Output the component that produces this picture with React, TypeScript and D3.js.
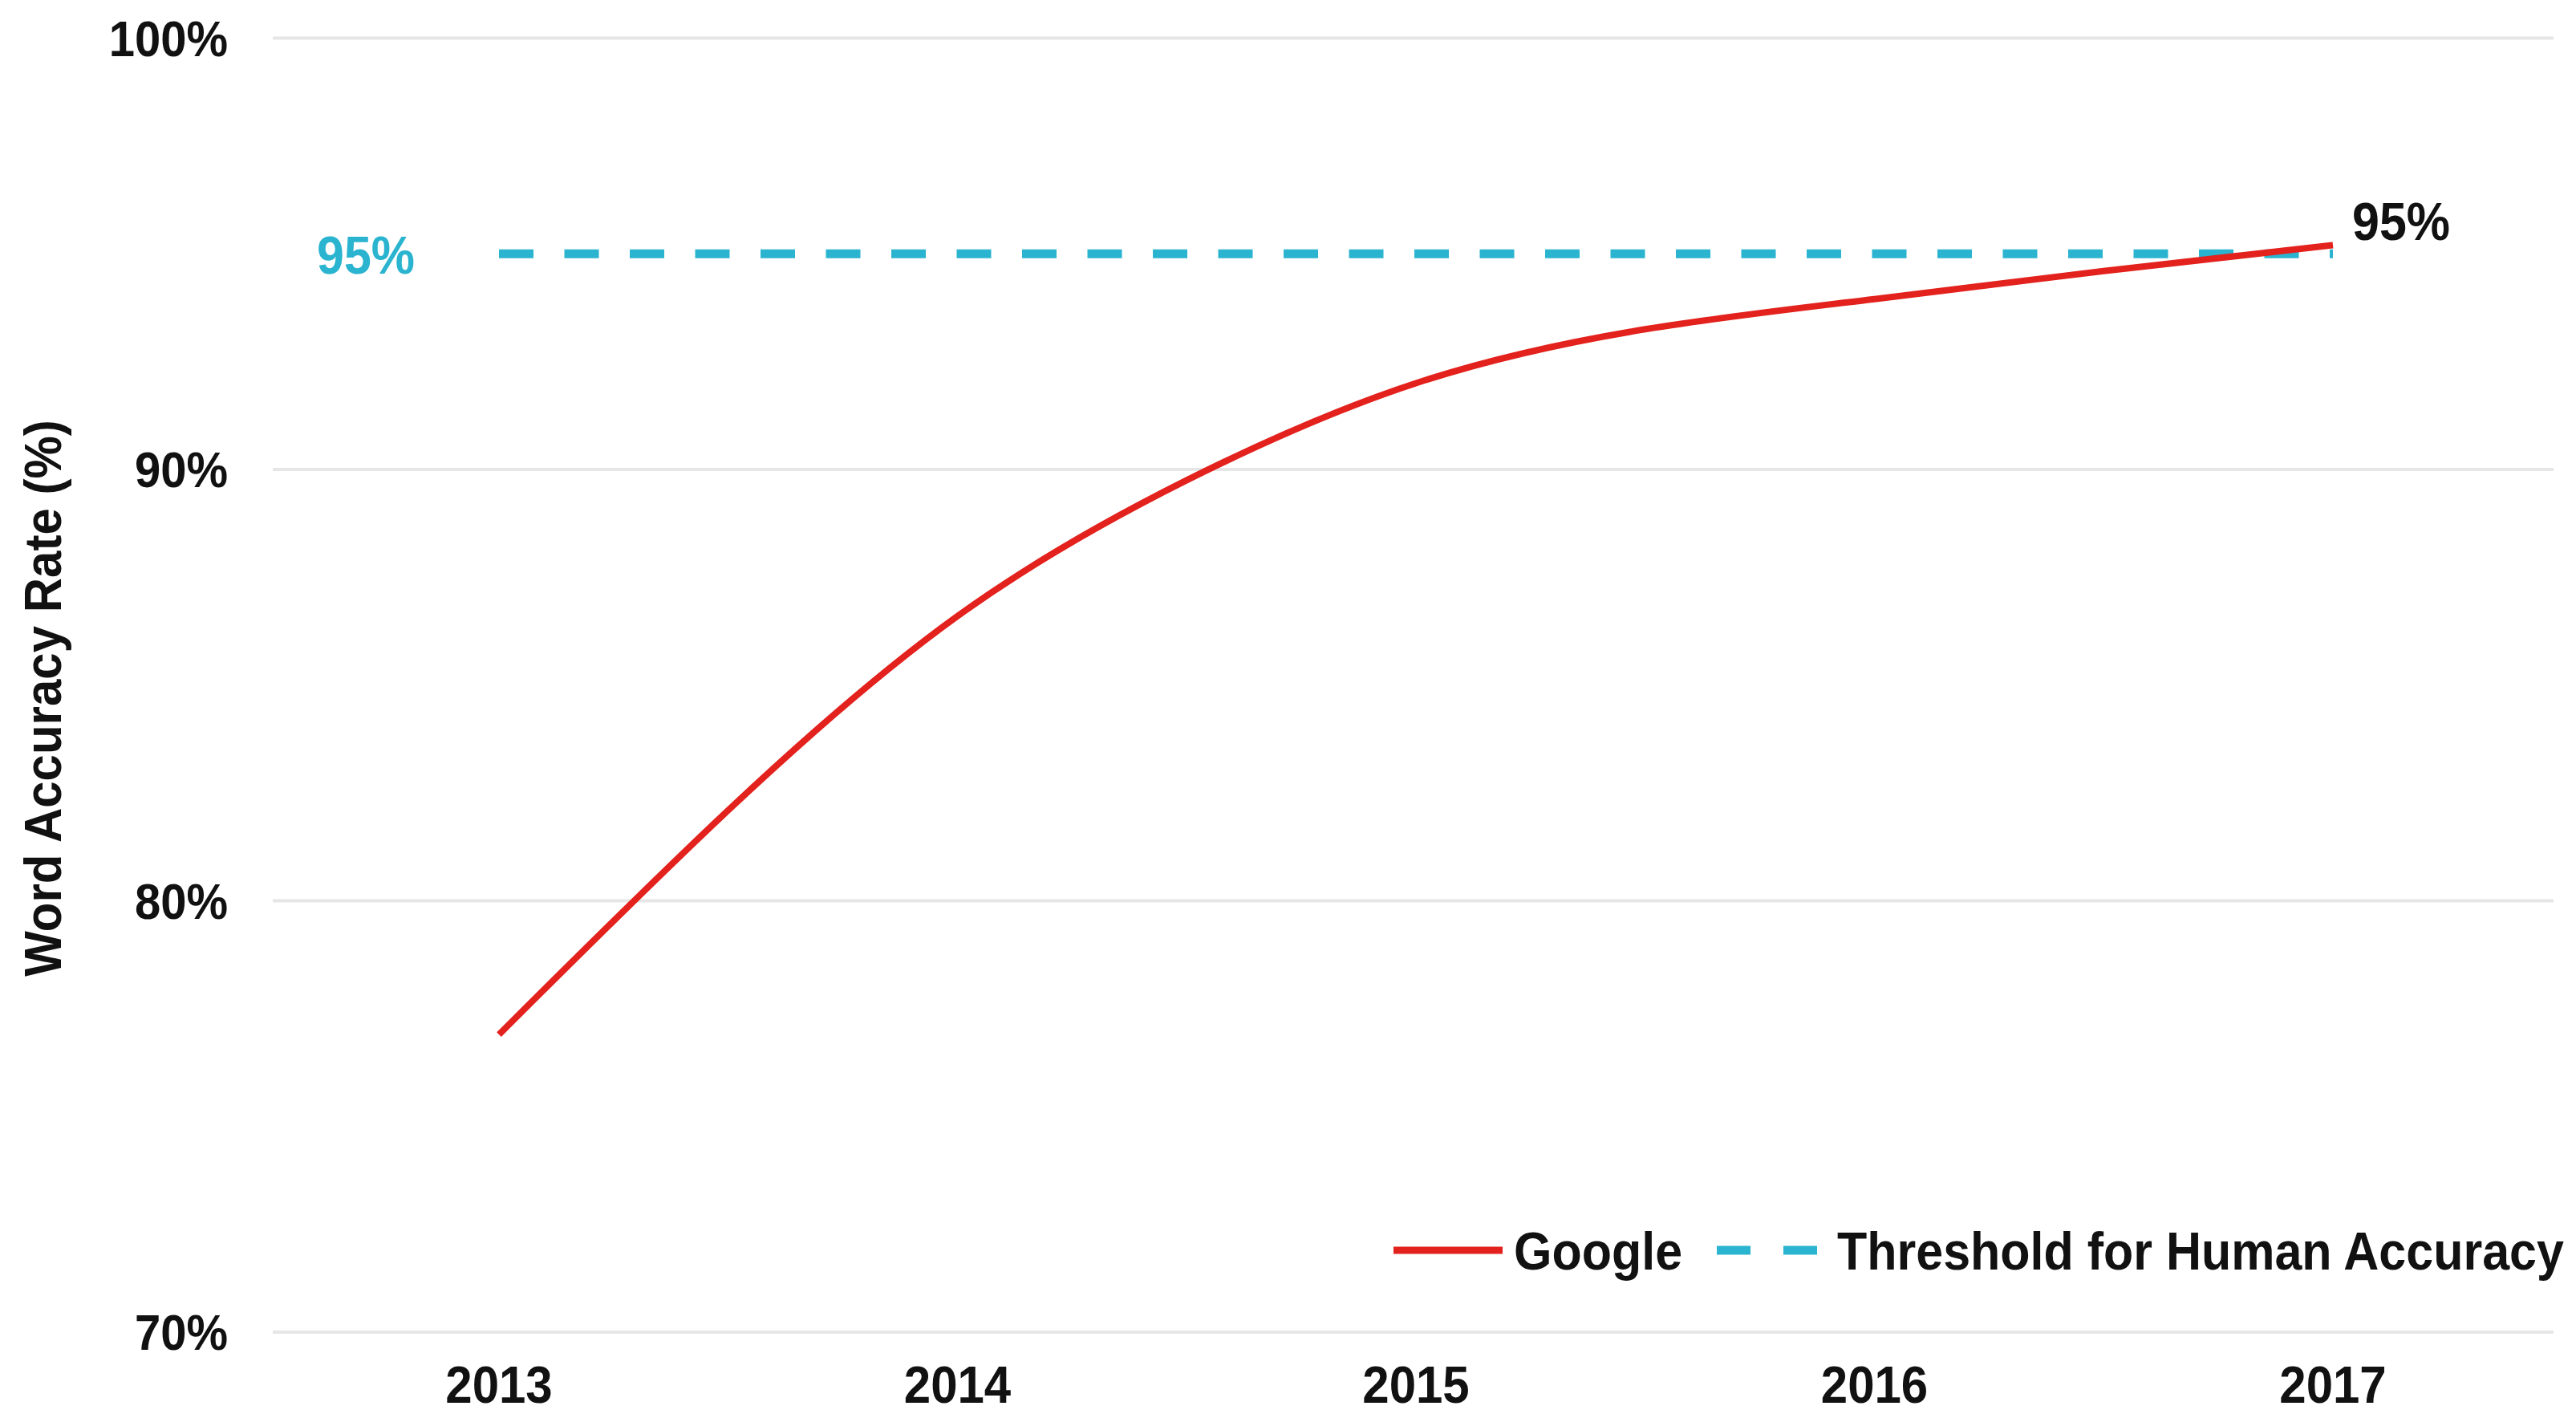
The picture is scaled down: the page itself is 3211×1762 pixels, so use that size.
import React from "react";
import * as d3 from "d3";

const periods = [2013, 2013.5, 2014, 2014.5, 2015, 2015.5, 2016, 2016.5, 2017];
const googleAccuracy = [76.9, 82.1, 86.6, 89.75, 92.0, 93.25, 93.95, 94.6, 95.2];
const thresholdPeriods = [2013, 2017];
const thresholdValue = 95;
const yearTicks = [2013, 2014, 2015, 2016, 2017];
const yTicks = [70, 80, 90, 100];
const seriesNames = ["Google", "Threshold for Human Accuracy"];
const endLabel = "95%";
const thresholdLabel = "95%";
const yTitle = "Word Accuracy Rate (%)";

const W = 3211;
const H = 1762;
const RED = "#e3211d";
const CYAN = "#2ab4cf";
const FONT = "'Liberation Sans', Arial, Helvetica, sans-serif";
const SY = 1.08;

function T({ x, y, children, anchor = "start", size = 60, fill = "#111", rotate = 0 }: any) {
  const tf = rotate
    ? `translate(${x},${y}) rotate(${rotate}) scale(1,${SY})`
    : `translate(${x},${y}) scale(1,${SY})`;
  return (
    <text
      transform={tf}
      textAnchor={anchor}
      fontFamily={FONT}
      fontWeight="bold"
      fontSize={size}
      fill={fill}
    >
      {children}
    </text>
  );
}

export default function App() {
  const x = d3.scaleLinear().domain([2013, 2017]).range([622, 2908]);
  const y = d3.scaleLinear().domain([70, 100]).range([1660, 47.5]);

  const pts = periods.map((p, i) => [p, googleAccuracy[i]] as [number, number]);
  const line = d3
    .line<[number, number]>()
    .x((d) => x(d[0]))
    .y((d) => y(d[1]))
    .curve(d3.curveNatural);

  const thr = d3
    .line<number>()
    .x((d) => x(d))
    .y(() => y(thresholdValue));

  const gridX0 = 340;
  const gridX1 = 3183;
  const legendY = 1558;

  return (
    <svg
      width={W}
      height={H}
      viewBox={`0 0 ${W} ${H}`}
      style={{ position: "absolute", left: 0, top: 0, display: "block", background: "#fff" }}
    >
      <rect x={0} y={0} width={W} height={H} fill="#fff" />
      {yTicks.map((t) => (
        <g key={t}>
          <line x1={gridX0} x2={gridX1} y1={y(t)} y2={y(t)} stroke="#e6e6e6" strokeWidth={4} />
          <T x={284} y={y(t) + 22} anchor="end" size={58}>
            {`${t}%`}
          </T>
        </g>
      ))}
      {yearTicks.map((yr) => (
        <T key={yr} x={x(yr)} y={1748} anchor="middle" size={60}>
          {String(yr)}
        </T>
      ))}
      <T x={76} y={870} anchor="middle" size={60} rotate={-90}>
        {yTitle}
      </T>

      <path
        d={thr(thresholdPeriods) || ""}
        fill="none"
        stroke={CYAN}
        strokeWidth={11}
        strokeDasharray="43 38.5"
      />
      <path d={line(pts) || ""} fill="none" stroke={RED} strokeWidth={8} />

      <T x={395} y={y(thresholdValue) + 25} size={61} fill={CYAN}>
        {thresholdLabel}
      </T>
      <T x={2932} y={299} size={61}>
        {endLabel}
      </T>

      <line x1={1737} x2={1873} y1={legendY} y2={legendY} stroke={RED} strokeWidth={9} />
      <T x={1887} y={1582} size={61}>
        {seriesNames[0]}
      </T>
      <line
        x1={2140}
        x2={2265}
        y1={legendY}
        y2={legendY}
        stroke={CYAN}
        strokeWidth={11}
        strokeDasharray="42 41"
      />
      <T x={2290} y={1582} size={61}>
        {seriesNames[1]}
      </T>
    </svg>
  );
}
